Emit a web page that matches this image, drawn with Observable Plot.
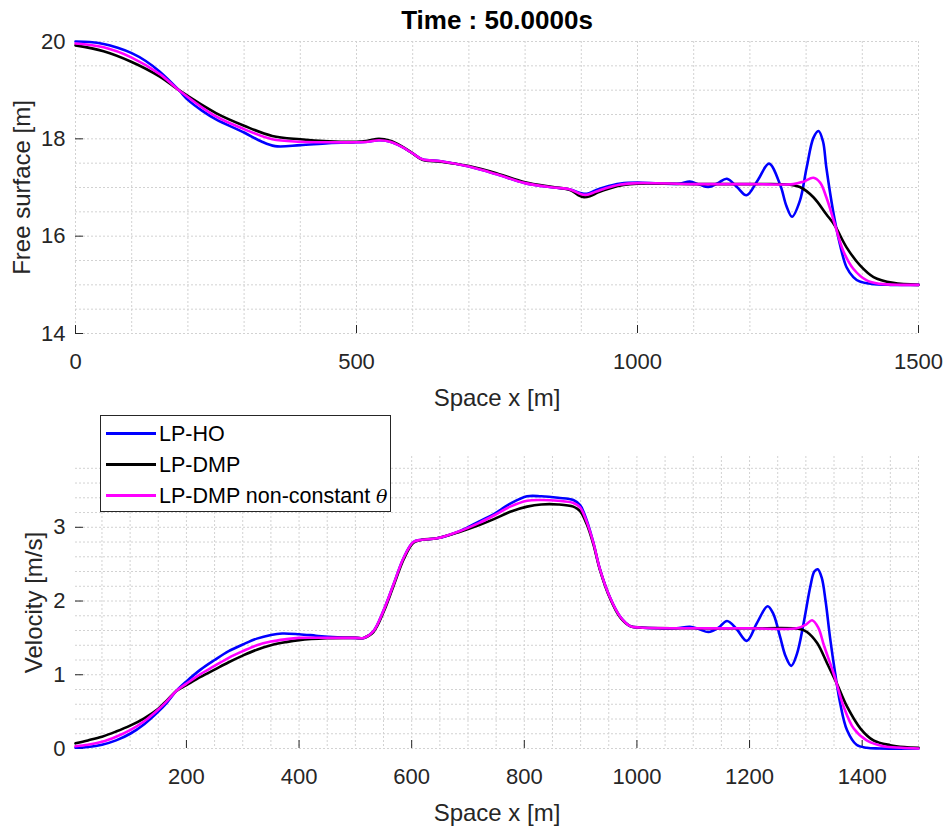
<!DOCTYPE html>
<html>
<head>
<meta charset="utf-8">
<script src="https://cdn.jsdelivr.net/npm/d3@7"></script>
<script src="https://cdn.jsdelivr.net/npm/@observablehq/plot@0.6"></script>
<style>
  body { margin: 0; background: #fff; }
  #wrap { position: relative; width: 947px; height: 830px; font-family: "Liberation Sans", Arial, sans-serif; color: #262626; }
  .panel { position: absolute; left: 0; }
  #legend { position: absolute; left: 100px; top: 415px; width: 289px; height: 95px; border: 1px solid #262626; background: #fff; }
  .row { position: absolute; left: 0; height: 30px; }
  .sw { position: absolute; left: 5px; width: 50px; height: 3px; }
  .lt { position: absolute; left: 58px; font-size: 21.5px; line-height: 24px; white-space: nowrap; color: #000; }
</style>
</head>
<body>
<div id="wrap">
  <div id="top" class="panel" style="top:0"></div>
  <div id="bottom" class="panel" style="top:415px"></div>
  <div id="legend"></div>
</div>
<script>
// ---------------- Data ----------------
const title = "Time : 50.0000s";
const seriesNames = ["LP-HO", "LP-DMP", "LP-DMP non-constant θ"];
const seriesColors = ["#0000ff", "#000000", "#ff00ff"];

// Free surface [m] vs x [m]
const hoSurface = [[0,20.0],[25,19.99],[50,19.95],[75,19.87],[100,19.76],[125,19.60],[150,19.38],[184,19.0],[200,18.80],[225,18.58],[250,18.40],[300,18.13],[330,17.95],[355,17.85],[400,17.87],[450,17.91],[500,17.93],[520,17.94],[540,17.97],[560,17.94],[580,17.84],[600,17.70],[617,17.58],[650,17.54],[700,17.43],[750,17.27],[800,17.09],[850,17.00],[880,16.96],[900,16.88],[910,16.87],[925,16.94],[940,17.00],[970,17.08],[1000,17.10],[1040,17.08],[1075,17.08],[1093,17.12],[1110,17.06],[1126,17.01],[1143,17.09],[1159,17.18],[1177,17.01],[1194,16.84],[1214,17.15],[1234,17.49],[1254,17.05],[1265,16.62],[1275,16.40],[1289,16.73],[1301,17.41],[1313,18.02],[1322,18.16],[1330,17.95],[1336,17.41],[1348,16.52],[1360,15.84],[1372,15.36],[1384,15.16],[1395,15.07],[1416,15.02],[1450,15.0],[1500,15.0]];
const dmpSurface = [[0,19.92],[50,19.80],[100,19.58],[150,19.28],[184,19.0],[250,18.53],[300,18.27],[350,18.06],[400,17.99],[450,17.95],[500,17.94],[520,17.96],[540,18.0],[560,17.96],[580,17.85],[600,17.70],[617,17.57],[650,17.53],[700,17.44],[750,17.29],[800,17.11],[850,17.01],[880,16.95],[895,16.84],[905,16.80],[915,16.82],[930,16.90],[950,16.98],[975,17.05],[1000,17.08],[1100,17.07],[1200,17.07],[1270,17.06],[1289,17.01],[1313,16.80],[1336,16.45],[1351,16.22],[1372,15.77],[1396,15.40],[1420,15.16],[1455,15.04],[1500,15.0]];
const ncSurface = [[0,19.96],[50,19.88],[100,19.67],[150,19.33],[184,19.0],[250,18.46],[300,18.20],[350,17.99],[400,17.94],[450,17.93],[500,17.93],[520,17.94],[540,17.97],[560,17.94],[580,17.84],[600,17.70],[617,17.58],[650,17.54],[700,17.43],[750,17.27],[800,17.09],[850,17.00],[880,16.96],[900,16.86],[910,16.85],[925,16.91],[940,16.97],[970,17.06],[1000,17.09],[1100,17.07],[1200,17.07],[1277,17.07],[1295,17.12],[1313,17.20],[1325,17.10],[1336,16.80],[1351,16.25],[1366,15.70],[1384,15.33],[1408,15.09],[1432,15.02],[1470,15.0],[1500,15.0]];

// Velocity [m/s] vs x [m]
const hoVelocity = [[3,0.01],[25,0.02],[50,0.05],[75,0.11],[100,0.20],[125,0.33],[150,0.50],[165,0.62],[182,0.78],[200,0.91],[225,1.07],[250,1.20],[275,1.32],[300,1.41],[325,1.49],[350,1.54],[370,1.56],[400,1.55],[430,1.53],[460,1.51],[500,1.50],[515,1.50],[532,1.59],[550,1.87],[568,2.23],[586,2.59],[603,2.80],[618,2.83],[645,2.85],[686,2.95],[720,3.08],[746,3.18],[775,3.32],[805,3.42],[830,3.42],[860,3.40],[887,3.37],[899,3.30],[911,3.09],[923,2.78],[934,2.44],[952,2.05],[970,1.79],[988,1.66],[1006,1.64],[1040,1.63],[1070,1.63],[1094,1.65],[1110,1.62],[1127,1.58],[1145,1.64],[1160,1.73],[1177,1.62],[1195,1.46],[1213,1.70],[1232,1.93],[1242,1.83],[1254,1.52],[1264,1.25],[1274,1.12],[1284,1.28],[1296,1.70],[1308,2.20],[1315,2.40],[1321,2.43],[1328,2.32],[1335,2.00],[1343,1.50],[1352,1.02],[1361,0.61],[1373,0.25],[1390,0.05],[1408,0.01],[1430,0],[1500,0]];
const dmpVelocity = [[3,0.07],[25,0.11],[50,0.16],[75,0.23],[100,0.31],[125,0.41],[150,0.54],[165,0.65],[182,0.78],[200,0.86],[225,0.97],[250,1.07],[275,1.17],[300,1.26],[325,1.34],[350,1.40],[375,1.44],[400,1.47],[450,1.495],[500,1.50],[515,1.50],[532,1.58],[550,1.85],[568,2.21],[586,2.57],[603,2.79],[618,2.83],[645,2.85],[686,2.94],[720,3.03],[746,3.11],[775,3.21],[805,3.28],[830,3.31],[860,3.31],[887,3.28],[899,3.22],[911,3.04],[923,2.76],[934,2.43],[952,2.04],[970,1.78],[988,1.66],[1006,1.64],[1100,1.63],[1200,1.63],[1278,1.63],[1290,1.62],[1302,1.58],[1320,1.43],[1338,1.15],[1355,0.88],[1373,0.57],[1397,0.27],[1420,0.11],[1450,0.045],[1475,0.02],[1500,0.01]];
const ncVelocity = [[3,0.03],[25,0.05],[50,0.09],[75,0.16],[100,0.25],[125,0.37],[150,0.53],[165,0.64],[182,0.78],[200,0.88],[225,1.01],[250,1.12],[275,1.23],[300,1.32],[325,1.40],[350,1.45],[375,1.48],[400,1.50],[450,1.50],[500,1.50],[515,1.50],[532,1.59],[550,1.87],[568,2.23],[586,2.59],[603,2.80],[618,2.83],[645,2.85],[686,2.95],[720,3.06],[746,3.16],[775,3.28],[805,3.36],[830,3.37],[860,3.36],[887,3.33],[899,3.27],[911,3.07],[923,2.78],[934,2.44],[952,2.05],[970,1.79],[988,1.66],[1006,1.64],[1100,1.63],[1200,1.63],[1284,1.63],[1300,1.68],[1311,1.74],[1322,1.64],[1332,1.40],[1350,1.00],[1367,0.57],[1385,0.27],[1408,0.11],[1438,0.03],[1470,0.01],[1500,0]];

// Axes
const topXTicks = [0, 500, 1000, 1500];
const topYTicks = [14, 16, 18, 20];
const topXGrid = d3.range(0, 1501, 100);
const topYGrid = d3.range(14, 20.01, 0.5);
const botXTicks = [200, 400, 600, 800, 1000, 1200, 1400];
const botYTicks = [0, 1, 2, 3];
const botXGrid = d3.range(50, 1501, 50);
const botYGrid = d3.range(0, 3.81, 0.2);
const xLabel = "Space x [m]";
const topYLabel = "Free surface [m]";
const botYLabel = "Velocity [m/s]";

// ---------------- Drawing ----------------
const FONT = "'Liberation Sans', Arial, sans-serif";
const INK = "#262626";
const W = 947, H = 415, ML = 75, MR = 29, MT = 41, MB = 82, TICK = 8;

function panel(cfg) {
  const gridStyle = {stroke: "#d2d2d2", strokeOpacity: 1, strokeWidth: 1, strokeDasharray: "2,2"};
  const fw = W - ML - MR, fh = H - MT - MB;
  return Plot.plot({
    width: W, height: H,
    marginLeft: ML, marginRight: MR, marginTop: MT, marginBottom: MB,
    style: {fontFamily: FONT, background: "#fff", color: INK, overflow: "visible"},
    x: {domain: cfg.xDomain},
    y: {domain: cfg.yDomain},
    marks: [
      Plot.gridX(cfg.xGrid, gridStyle),
      Plot.gridY(cfg.yGrid, gridStyle),
      // inward ticks (MATLAB style)
      Plot.ruleX(cfg.xTicks, {stroke: INK, insetTop: fh - TICK}),
      Plot.ruleY(cfg.yTicks, {stroke: INK, insetRight: fw - TICK}),
      Plot.axisX(cfg.xTicks, {tickSize: 0, tickPadding: 20, fontSize: 22, line: true, label: null, color: INK, tickFormat: d => String(d)}),
      Plot.axisY(cfg.yTicks, {tickSize: 0, tickPadding: 10, fontSize: 22, line: true, label: null, color: INK, tickFormat: d => String(d)}),
      ...cfg.series.map((s, i) => Plot.line(s, {stroke: seriesColors[i], strokeWidth: 2.6, curve: "catmull-rom"})),
      Plot.text([xLabel], {text: d => d, frameAnchor: "bottom", dy: cfg.xLabelDy, textAnchor: "middle", lineAnchor: "middle", fontSize: 24, fill: INK}),
      Plot.text([cfg.yLabel], {text: d => d, frameAnchor: "left", dx: cfg.yLabelDx, textAnchor: "middle", lineAnchor: "middle", rotate: -90, fontSize: 24, fill: INK}),
      ...(cfg.title ? [Plot.text([cfg.title], {text: d => d, frameAnchor: "top", dy: -21, textAnchor: "middle", lineAnchor: "middle", fontSize: 26, fontWeight: "bold", fill: "#000"})] : [])
    ]
  });
}

document.getElementById("top").append(panel({
  xDomain: [0, 1500], yDomain: [14, 20],
  xTicks: topXTicks, yTicks: topYTicks, xGrid: topXGrid, yGrid: topYGrid,
  series: [hoSurface, dmpSurface, ncSurface],
  yLabel: topYLabel, yLabelDx: -53, xLabelDy: 65, title
}));

document.getElementById("bottom").append(panel({
  xDomain: [3, 1500], yDomain: [0, 3.96],
  xTicks: botXTicks, yTicks: botYTicks, xGrid: botXGrid, yGrid: botYGrid,
  series: [hoVelocity, dmpVelocity, ncVelocity],
  yLabel: botYLabel, yLabelDx: -41, xLabelDy: 65
}));

// Legend
const legend = document.getElementById("legend");
const rowTops = [18, 49, 80];
seriesNames.forEach((name, i) => {
  const row = document.createElement("div");
  row.className = "row";
  row.style.top = (rowTops[i] - 15) + "px";
  const sw = document.createElement("div");
  sw.className = "sw";
  sw.style.top = "13px";
  sw.style.background = seriesColors[i];
  const lt = document.createElement("div");
  lt.className = "lt";
  lt.style.top = "3px";
  if (name.endsWith("θ")) {
    lt.append(document.createTextNode(name.slice(0, -1)));
    const th = document.createElement("span");
    th.style.fontFamily = "'DejaVu Serif', serif";
    th.style.fontStyle = "italic";
    th.style.fontSize = "19px";
    th.textContent = "θ";
    lt.append(th);
  } else {
    lt.textContent = name;
  }
  row.append(sw, lt);
  legend.append(row);
});
</script>
</body>
</html>
